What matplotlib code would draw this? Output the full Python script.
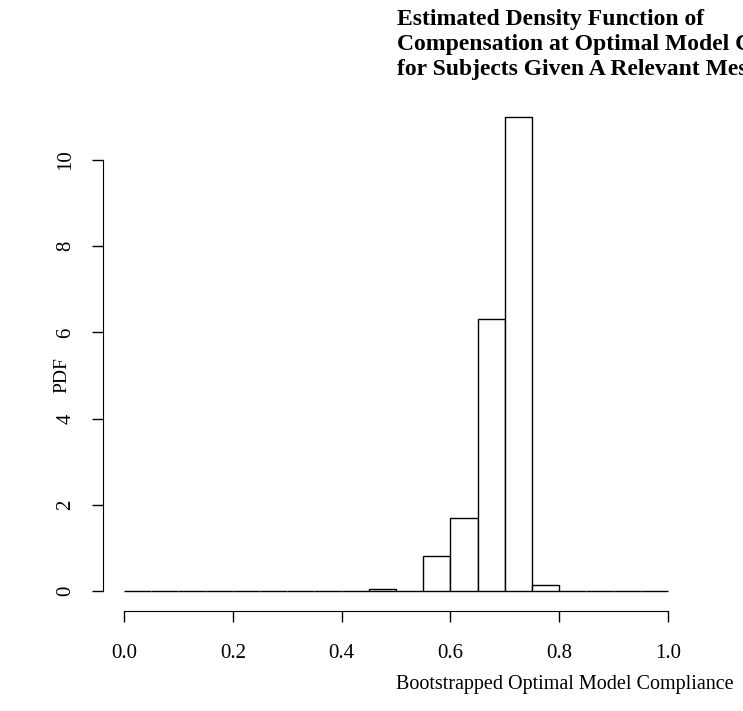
import matplotlib.pyplot as plt
import numpy as np

# histogram (density) of bootstrapped compliance, bins of width 0.05
bin_edges = np.round(np.arange(0.0, 1.0001, 0.05), 2)
density = [0, 0, 0, 0, 0, 0, 0, 0, 0, 0.05, 0.0, 0.81, 1.69, 6.31, 11.0, 0.14,
           0, 0, 0, 0]
x_ticks = [0.0, 0.2, 0.4, 0.6, 0.8, 1.0]
y_ticks = [0, 2, 4, 6, 8, 10]

plt.rcParams["font.family"] = ["Liberation Serif", "DejaVu Serif"]

W, H = 743, 711
fig = plt.figure(figsize=(W / 100, H / 100), dpi=100)
ax = fig.add_axes([124 / W, (H - 591) / H, 544 / W, 11.2 * 43.1 / H])

ax.bar(bin_edges[:-1], density, width=0.05, align="edge",
       facecolor="white", edgecolor="black", linewidth=1.0, clip_on=False)

ax.set_xlim(0, 1)
ax.set_ylim(0, 11.2)
for s in ("top", "right"):
    ax.spines[s].set_visible(False)
ax.spines["left"].set_position(("outward", 15))
ax.spines["bottom"].set_position(("outward", 14.4))
ax.spines["left"].set_bounds(0, 10)
ax.spines["bottom"].set_bounds(0, 1)
ax.set_xticks(x_ticks)
ax.set_xticklabels([f"{v:.1f}" for v in x_ticks])
ax.set_yticks(y_ticks)
ax.set_yticklabels([str(v) for v in y_ticks], rotation=90, va="center")
ax.tick_params(length=8, width=1, labelsize=15)
ax.tick_params(axis="x", pad=16)
ax.tick_params(axis="y", pad=12)

fig.text(62 / W, 1 - 375 / H, "PDF", rotation=90, ha="center", va="center",
         fontsize=14)
fig.text(565 / W, 1 - 684 / H, "Bootstrapped Optimal Model Compliance",
         ha="center", va="center", fontsize=14.5)
fig.text(397 / W, 1 - 9 / H,
         "Estimated Density Function of\n"
         "Compensation at Optimal Model Compliance\n"
         "for Subjects Given A Relevant Message",
         ha="left", va="top", fontsize=17, fontweight="bold", linespacing=1.24)

fig.savefig("out.png", dpi=100)
